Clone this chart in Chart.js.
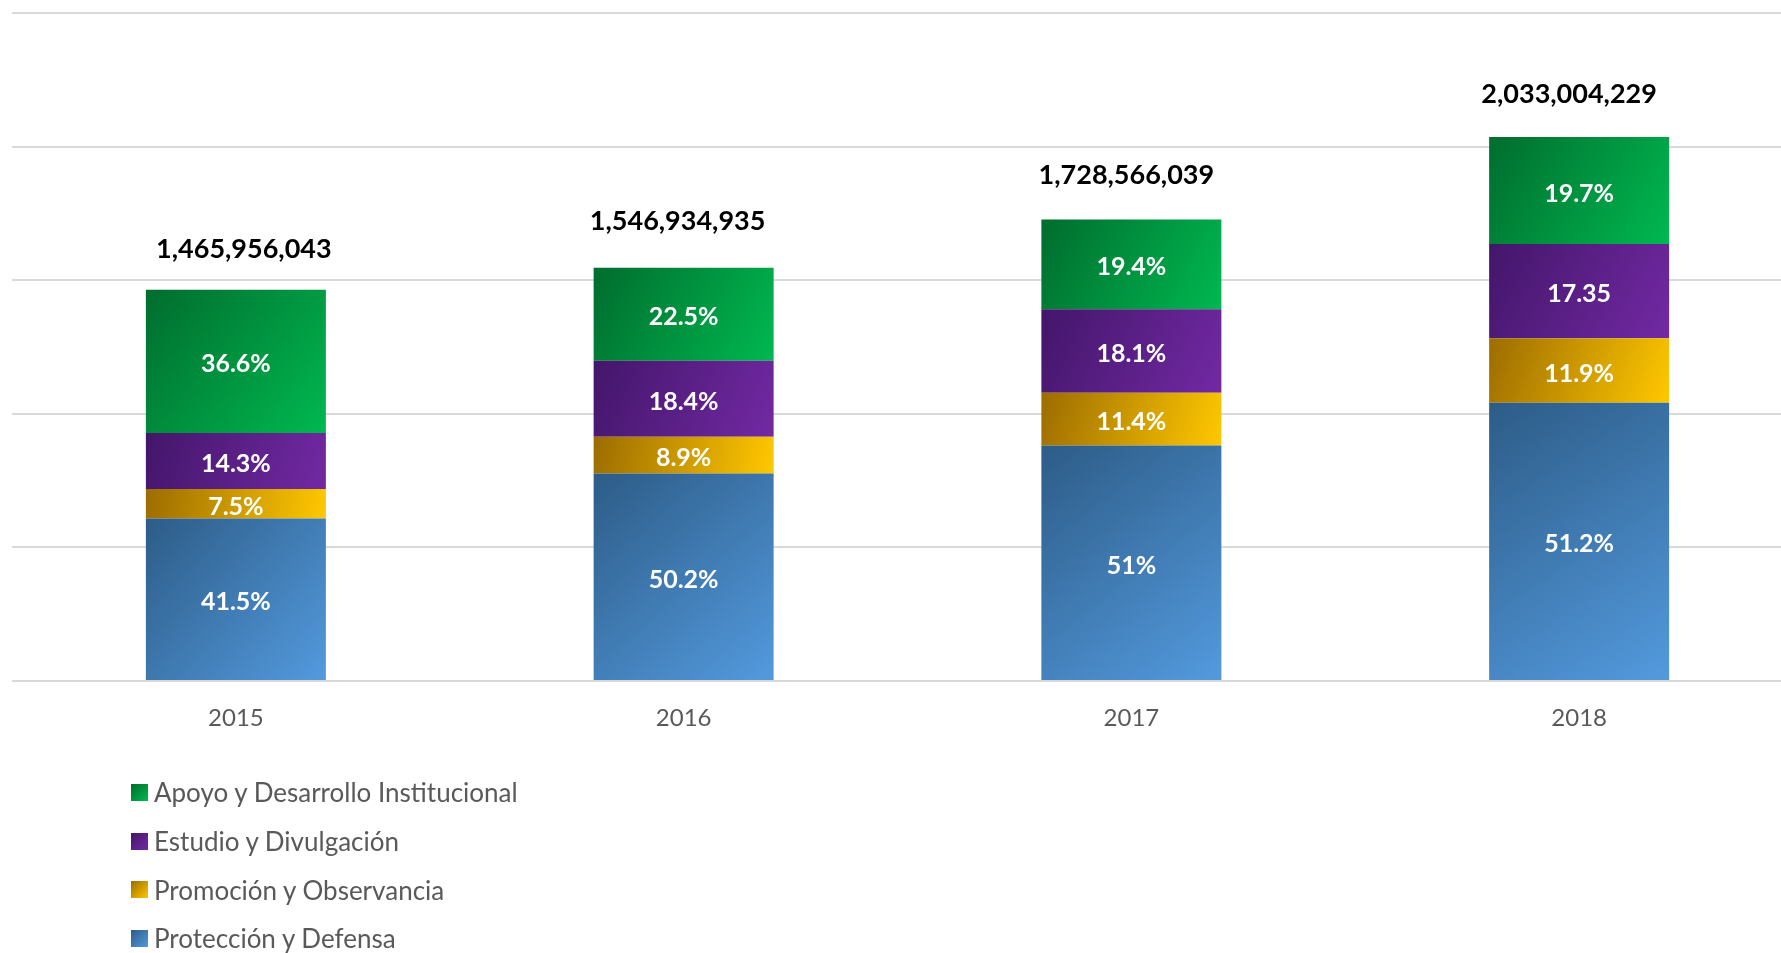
<!DOCTYPE html>
<html>
<head>
<meta charset="utf-8">
<script src="https://cdn.jsdelivr.net/npm/chart.js@4"></script>
<style>
  html, body { margin: 0; padding: 0; background: #fff; width: 1781px; height: 953px; overflow: hidden; }
  #wrap { position: absolute; left: 0; top: 0; width: 1815px; height: 953px; }
  #legend { position: absolute; left: 131px; top: 768px; font-family: Lato, sans-serif; font-size: 26px; color: #595959; }
  .item { height: 48.7px; display: flex; align-items: center; }
  .sw { width: 17px; height: 17px; margin-right: 6px; }
</style>
</head>
<body>
<div id="wrap">
  <canvas id="chart" width="1815" height="953"></canvas>
  <div id="legend"></div>
</div>
<script>
// Values. Segments are shares (%) of each year's total.
const years = ["2015", "2016", "2017", "2018"];
const totals = [1465956043, 1546934935, 1728566039, 2033004229];

const seriesNames = ["Protección y Defensa", "Promoción y Observancia", "Estudio y Divulgación", "Apoyo y Desarrollo Institucional"];
const proteccion = [41.5, 50.2, 51, 51.2];
const promocion = [7.5, 8.9, 11.4, 11.9];
const estudio = [14.3, 18.4, 18.1, 17.35];
const apoyo = [36.6, 22.5, 19.4, 19.7];

const proteccionLabels = ["41.5%", "50.2%", "51%", "51.2%"];
const promocionLabels = ["7.5%", "8.9%", "11.4%", "11.9%"];
const estudioLabels = ["14.3%", "18.4%", "18.1%", "17.35"];
const apoyoLabels = ["36.6%", "22.5%", "19.4%", "19.7%"];

const yTicks = [0, 500000000, 1000000000, 1500000000, 2000000000, 2500000000];

// dark (top-left) -> light (bottom-right)
const colors = [
  ["#2d5c87", "#539ade"],
  ["#9c6c00", "#ffc800"],
  ["#43166a", "#7229a3"],
  ["#006d2e", "#00b850"],
];

const BAR_PCT = 0.402;
// small hand nudges of the total labels, as placed in the original
const totalNudgeX = [8, -6, -5, -10];
const totalNudgeY = [6, 0, 2, 3];

const shares = [proteccion, promocion, estudio, apoyo];
const segLabels = [proteccionLabels, promocionLabels, estudioLabels, apoyoLabels];

function amounts(share) {
  return share.map((p, i) => totals[i] * p / 100);
}

function gradient(dark, light) {
  return (c) => {
    const chart = c.chart;
    if (c.type !== "data" || !chart.chartArea) return light;
    const xs = chart.scales.x, ys = chart.scales.y;
    const i = c.dataIndex, d = c.datasetIndex;
    let base = 0;
    for (let k = 0; k < d; k++) base += chart.data.datasets[k].data[i];
    const top = base + chart.data.datasets[d].data[i];
    const half = xs.width / years.length * BAR_PCT / 2;
    const cx = xs.getPixelForValue(i);
    const g = chart.ctx.createLinearGradient(cx - half, ys.getPixelForValue(top), cx + half, ys.getPixelForValue(base));
    g.addColorStop(0, dark);
    g.addColorStop(1, light);
    return g;
  };
}

const labelPlugin = {
  id: "barLabels",
  afterDatasetsDraw(chart) {
    const ctx = chart.ctx;
    ctx.save();
    ctx.textAlign = "center";
    ctx.textBaseline = "middle";
    ctx.fillStyle = "#ffffff";
    ctx.font = "bold 25px Lato";
    chart.data.datasets.forEach((ds, d) => {
      chart.getDatasetMeta(d).data.forEach((el, i) => {
        ctx.fillText(segLabels[d][i], el.x, (el.y + el.base) / 2 + 3);
      });
    });
    const last = chart.getDatasetMeta(chart.data.datasets.length - 1);
    ctx.fillStyle = "#000000";
    ctx.font = "bold 27px Lato";
    last.data.forEach((el, i) => {
      ctx.fillText(totals[i].toLocaleString("en-US"), el.x + totalNudgeX[i], el.y - 46 + totalNudgeY[i]);
    });
    ctx.restore();
  },
};

const chart = new Chart(document.getElementById("chart"), {
  type: "bar",
  data: {
    labels: years,
    datasets: shares.map((s, d) => ({
      label: seriesNames[d],
      data: amounts(s),
      backgroundColor: gradient(colors[d][0], colors[d][1]),
      borderWidth: 0,
      barPercentage: BAR_PCT,
      categoryPercentage: 1,
    })),
  },
  options: {
    responsive: false,
    animation: false,
    layout: { padding: { left: 12, right: 12, top: 13, bottom: 212 } },
    plugins: { legend: { display: false }, tooltip: { enabled: false } },
    scales: {
      x: {
        stacked: true,
        grid: { display: false, drawTicks: false },
        border: { display: false },
        ticks: { color: "#595959", font: { family: "Lato", size: 24 }, padding: 23 },
        afterFit(s) { s.height = 60; },
      },
      y: {
        stacked: true,
        min: yTicks[0],
        max: yTicks[yTicks.length - 1],
        afterBuildTicks(s) { s.ticks = yTicks.map((v) => ({ value: v })); },
        ticks: { display: false },
        grid: { color: "#d9d9d9", lineWidth: 2, drawTicks: false },
        border: { display: false },
        afterFit(s) { s.width = 0; },
      },
    },
  },
  plugins: [labelPlugin],
});

// legend, top of the stack first
const legendEl = document.getElementById("legend");
for (let d = seriesNames.length - 1; d >= 0; d--) {
  const row = document.createElement("div");
  row.className = "item";
  row.innerHTML = `<span class="sw" style="background:linear-gradient(135deg, ${colors[d][0]}, ${colors[d][1]})"></span>${seriesNames[d]}`;
  legendEl.appendChild(row);
}
</script>
</body>
</html>
